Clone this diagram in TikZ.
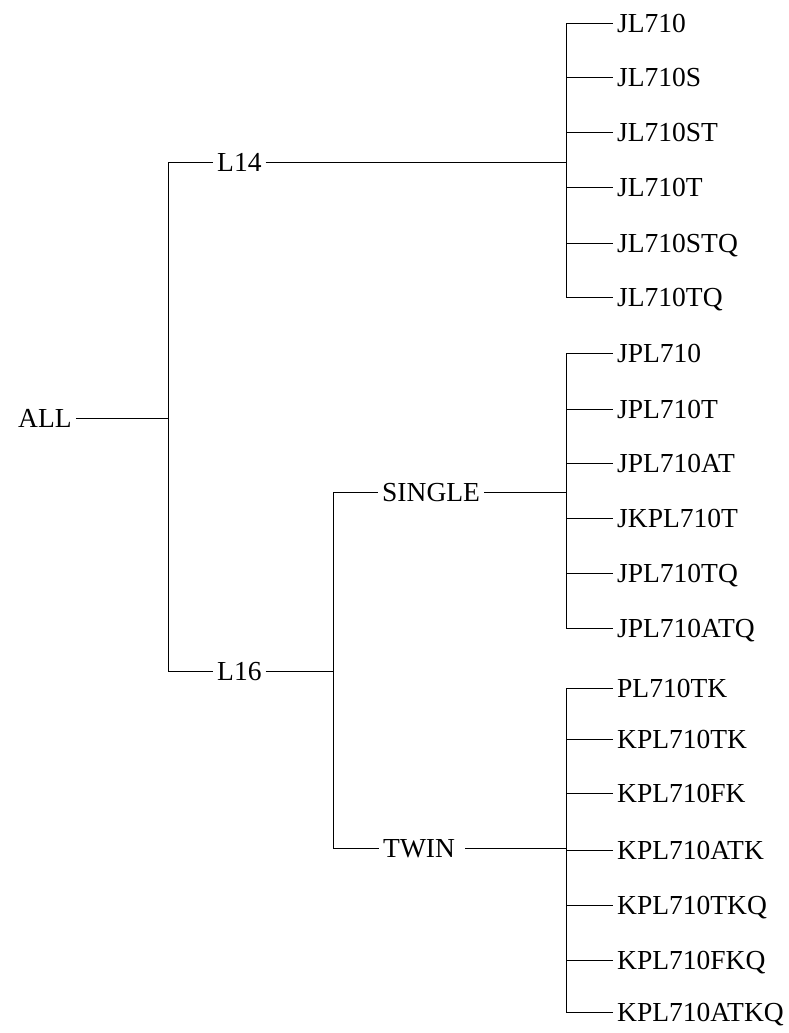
\documentclass[tikz,border=0pt]{standalone}
\usepackage{fontspec}
\setmainfont{Liberation Serif}
\begin{document}
\begin{tikzpicture}[x=1pt,y=-1pt,
  lbl/.style={anchor=west,inner xsep=4pt,inner ysep=0pt,text height=18.2pt,text depth=0pt,font=\fontsize{27.5}{30}\selectfont},
  conn/.style={line width=0.9pt,black}]
\useasboundingbox (0,0) rectangle (788,1033);
% nodes
\node[lbl] (all) at (14,418) {ALL};
\node[lbl] (l14) at (213,162) {L14};
\node[lbl] (l16) at (213,671) {L16};
\node[lbl] (single) at (378,492) {SINGLE};
\node[lbl] (twin) at (379,848) {TWIN};
% junctions
\coordinate (jall) at (168,418);
\coordinate (jl14) at (566,162);
\coordinate (jl16) at (333,671);
\coordinate (jsingle) at (566,492);
\coordinate (jtwin) at (566,848);
% leaves
\foreach \n/\y/\t in {a1/23/JL710,a2/77/JL710S,a3/132/JL710ST,a4/187/JL710T,a5/243/JL710STQ,a6/297/JL710TQ}
  {\node[lbl] (\n) at (613,\y) {\t};}
\foreach \n/\y/\t in {b1/353/JPL710,b2/409/JPL710T,b3/463/JPL710AT,b4/518/JKPL710T,b5/573/JPL710TQ,b6/628/JPL710ATQ}
  {\node[lbl] (\n) at (613,\y) {\t};}
\foreach \n/\y/\t in {c1/688/PL710TK,c2/739/KPL710TK,c3/793/KPL710FK,c4/850/KPL710ATK,c5/905/KPL710TKQ,c6/960/KPL710FKQ,c7/1012/KPL710ATKQ}
  {\node[lbl] (\n) at (613,\y) {\t};}
% connectors
\draw[conn] (all.east) -- (jall);
\draw[conn] (jall) |- (l14.west);
\draw[conn] (jall) |- (l16.west);
\draw[conn] (l14.east) -- (jl14);
\draw[conn] (l16.east) -- (jl16);
\draw[conn] (jl16) |- (single.west);
\draw[conn] (jl16) |- (twin.west);
\draw[conn] (single.east) -- (jsingle);
\draw[conn] ([xshift=6pt]twin.east) -- (jtwin);
\foreach \n in {a1,a2,a3,a4,a5,a6} {\draw[conn] (jl14) |- (\n.west);}
\foreach \n in {b1,b2,b3,b4,b5,b6} {\draw[conn] (jsingle) |- (\n.west);}
\foreach \n in {c1,c2,c3,c4,c5,c6,c7} {\draw[conn] (jtwin) |- (\n.west);}
\end{tikzpicture}
\end{document}
